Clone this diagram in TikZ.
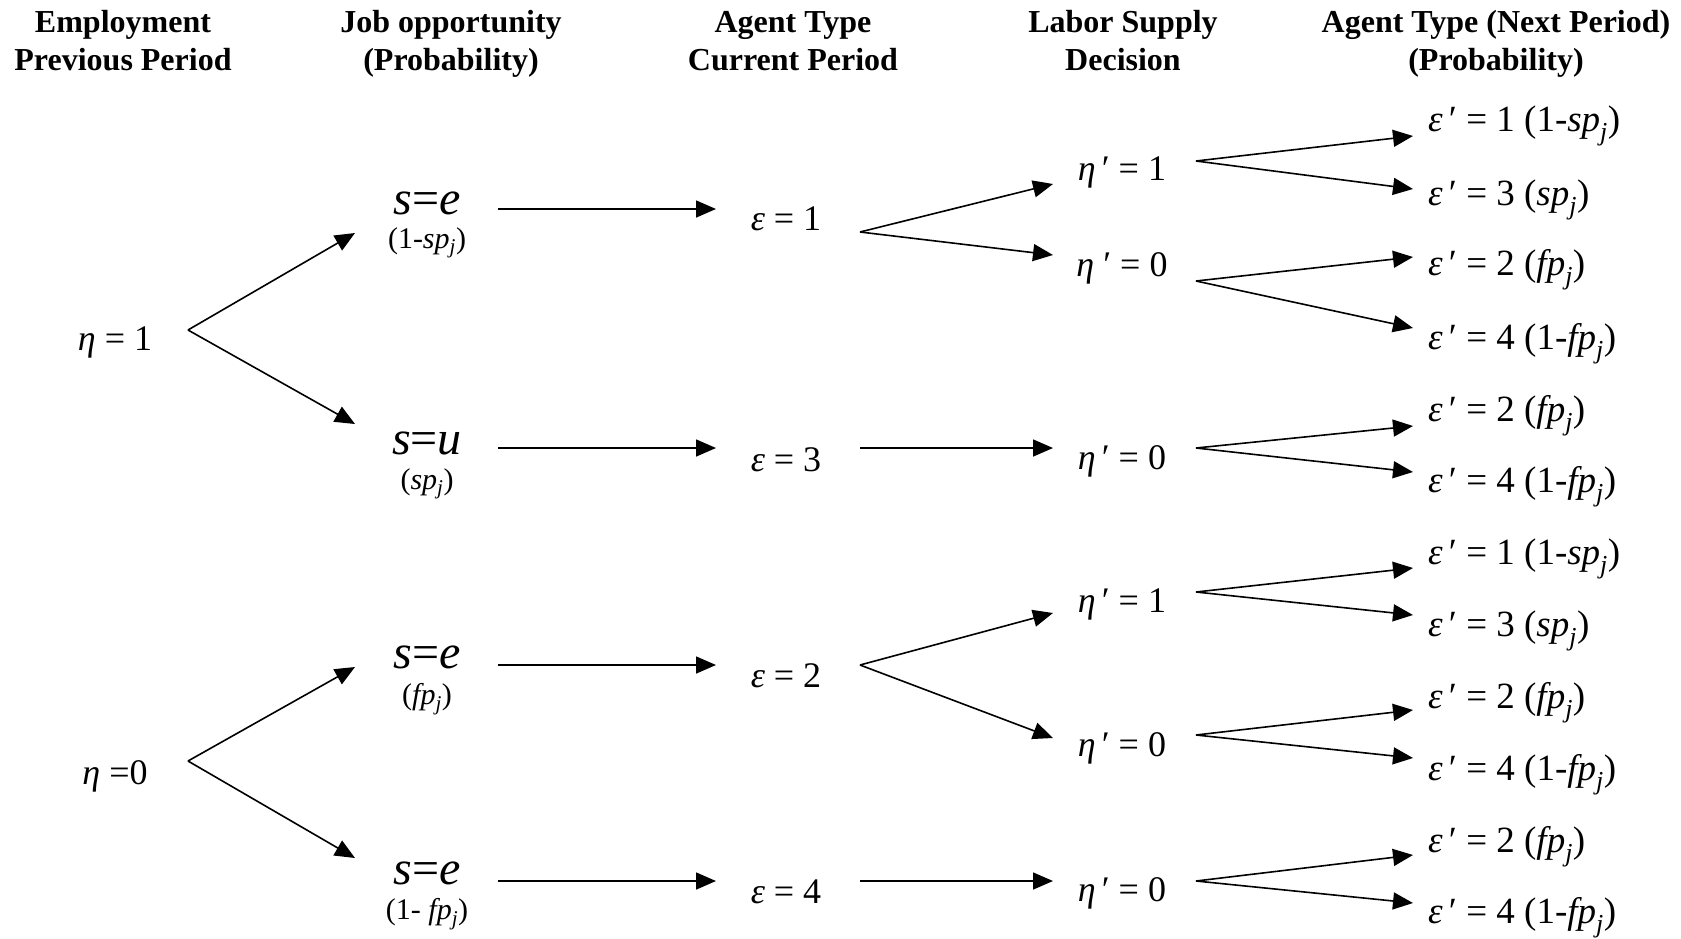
\documentclass[tikz,border=0pt]{standalone}
\usepackage{fontspec}
\setmainfont{Liberation Serif}
\usetikzlibrary{arrows.meta}
\newcommand{\subj}{\textsubscript{\itshape j}}
\begin{document}
\begin{tikzpicture}[x=1bp,y=-1bp,
  hdr/.style={font=\bfseries\fontsize{32bp}{38bp}\selectfont, align=center, inner sep=0pt, anchor=base},
  big/.style={font=\fontsize{36bp}{40bp}\selectfont, inner sep=0pt},
  sbig/.style={font=\fontsize{48bp}{52bp}\selectfont, inner sep=0pt},
  prob/.style={font=\fontsize{30bp}{34bp}\selectfont, inner sep=0pt},
  lab/.style={font=\fontsize{37bp}{42bp}\selectfont, inner sep=0pt, anchor=west},
  arr/.style={-{Triangle[length=20bp,width=17bp]}, line width=1.6bp},
]
\useasboundingbox (0,0) rectangle (1681,938);
% headers
\node[hdr] (h1) at (123,70) {Employment\\Previous Period};
\node[hdr] (h2) at (451,70) {Job opportunity\\(Probability)};
\node[hdr] (h3) at (793,70) {Agent Type\\Current Period};
\node[hdr] (h4) at (1123,70) {Labor Supply\\Decision};
\node[hdr] (h5) at (1496,70) {Agent Type (Next Period)\\(Probability)};

% column 1
\node[big] (n1) at (115,342) {{\itshape η} = 1};
\node[big] (n0) at (115,776) {{\itshape η} =0};

% column 2
\node[sbig] (se1) at (427,203) {{\itshape s}={\itshape e}};
\node[prob] (pse1) at (427,243) {(1-{\itshape sp}\subj)};
\node[sbig] (su) at (427,443) {{\itshape s}={\itshape u}};
\node[prob] (psu) at (427,484) {({\itshape sp}\subj)};
\node[sbig] (se2) at (427,657) {{\itshape s}={\itshape e}};
\node[prob] (pse2) at (427,699) {({\itshape fp}\subj)};
\node[sbig] (se3) at (427,873) {{\itshape s}={\itshape e}};
\node[prob] (pse3) at (427,914) {(1- {\itshape fp}\subj)};

% column 3
\node[big] (e1) at (786,219) {{\itshape ε} = 1};
\node[big] (e3) at (786,460) {{\itshape ε} = 3};
\node[big] (e2) at (786,676) {{\itshape ε} = 2};
\node[big] (e4) at (786,892) {{\itshape ε} = 4};

% column 4
\node[big] (d11) at (1122,172) {{\itshape η}\,′ = 1};
\node[big] (d10) at (1122,268) {{\itshape η} ′ = 0};
\node[big] (d30) at (1122,461) {{\itshape η}\,′ = 0};
\node[big] (d21) at (1122,604) {{\itshape η}\,′ = 1};
\node[big] (d20) at (1122,748) {{\itshape η}\,′ = 0};
\node[big] (d40) at (1122,893) {{\itshape η}\,′ = 0};

% column 5
\node[lab] (l1) at (1428,126) {{\itshape ε}\,′ = 1 (1-{\itshape sp}\subj)};
\node[lab] (l2) at (1428,200) {{\itshape ε}\,′ = 3 ({\itshape sp}\subj)};
\node[lab] (l3) at (1428,270) {{\itshape ε}\,′ = 2 ({\itshape fp}\subj)};
\node[lab] (l4) at (1428,344) {{\itshape ε}\,′ = 4 (1-{\itshape fp}\subj)};
\node[lab] (l5) at (1428,416) {{\itshape ε}\,′ = 2 ({\itshape fp}\subj)};
\node[lab] (l6) at (1428,487) {{\itshape ε}\,′ = 4 (1-{\itshape fp}\subj)};
\node[lab] (l7) at (1428,559) {{\itshape ε}\,′ = 1 (1-{\itshape sp}\subj)};
\node[lab] (l8) at (1428,631) {{\itshape ε}\,′ = 3 ({\itshape sp}\subj)};
\node[lab] (l9) at (1428,703) {{\itshape ε}\,′ = 2 ({\itshape fp}\subj)};
\node[lab] (l10) at (1428,775) {{\itshape ε}\,′ = 4 (1-{\itshape fp}\subj)};
\node[lab] (l11) at (1428,847) {{\itshape ε}\,′ = 2 ({\itshape fp}\subj)};
\node[lab] (l12) at (1428,918) {{\itshape ε}\,′ = 4 (1-{\itshape fp}\subj)};

% branch points and tips
\coordinate (v1) at (188,330);
\coordinate (t1a) at (355,233);
\coordinate (t1b) at (355,424);
\coordinate (v0) at (188,761);
\coordinate (t0a) at (355,667);
\coordinate (t0b) at (355,858);

\coordinate (a1s) at (498,209); \coordinate (a1e) at (716,209);
\coordinate (a2s) at (498,448); \coordinate (a2e) at (716,448);
\coordinate (a3s) at (498,665); \coordinate (a3e) at (716,665);
\coordinate (a4s) at (498,881); \coordinate (a4e) at (716,881);

\coordinate (ve1) at (860,232);
\coordinate (te1a) at (1053,184);
\coordinate (te1b) at (1053,255);
\coordinate (b3s) at (860,448); \coordinate (b3e) at (1053,448);
\coordinate (ve2) at (860,665);
\coordinate (te2a) at (1053,613);
\coordinate (te2b) at (1053,738);
\coordinate (b4s) at (860,881); \coordinate (b4e) at (1053,881);

\coordinate (w11) at (1196,161); \coordinate (u1) at (1413,136); \coordinate (u2) at (1413,189);
\coordinate (w10) at (1196,281); \coordinate (u3) at (1413,257); \coordinate (u4) at (1413,328);
\coordinate (w30) at (1196,448); \coordinate (u5) at (1413,426); \coordinate (u6) at (1413,472);
\coordinate (w21) at (1196,592); \coordinate (u7) at (1413,568); \coordinate (u8) at (1413,615);
\coordinate (w20) at (1196,735); \coordinate (u9) at (1413,710); \coordinate (u10) at (1413,758);
\coordinate (w40) at (1196,881); \coordinate (u11) at (1413,855); \coordinate (u12) at (1413,903);

\draw[arr] (v1) -- (t1a);
\draw[arr] (v1) -- (t1b);
\draw[arr] (v0) -- (t0a);
\draw[arr] (v0) -- (t0b);
\draw[arr] (a1s) -- (a1e);
\draw[arr] (a2s) -- (a2e);
\draw[arr] (a3s) -- (a3e);
\draw[arr] (a4s) -- (a4e);
\draw[arr] (ve1) -- (te1a);
\draw[arr] (ve1) -- (te1b);
\draw[arr] (b3s) -- (b3e);
\draw[arr] (ve2) -- (te2a);
\draw[arr] (ve2) -- (te2b);
\draw[arr] (b4s) -- (b4e);
\foreach \w/\p/\q in {w11/u1/u2, w10/u3/u4, w30/u5/u6, w21/u7/u8, w20/u9/u10, w40/u11/u12}{
  \draw[arr] (\w) -- (\p);
  \draw[arr] (\w) -- (\q);
}
\end{tikzpicture}
\end{document}
